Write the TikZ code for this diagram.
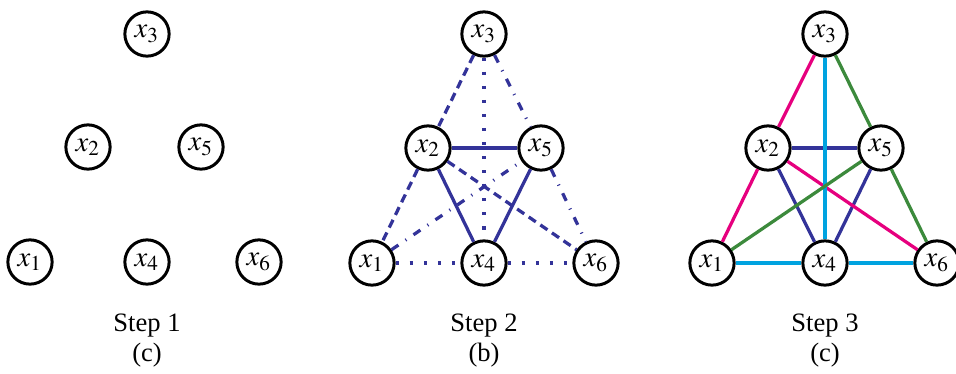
\documentclass[tikz,border=0pt]{standalone}
\usepackage{mathptmx}
\usepackage{fontspec}
\setmainfont{Liberation Serif}
\usepackage{tikz}
\definecolor{edgeblue}{RGB}{51,51,153}
\definecolor{edgepink}{RGB}{230,0,126}
\definecolor{edgecyan}{RGB}{0,163,224}
\definecolor{edgegreen}{RGB}{60,138,60}
\tikzset{
  vtx/.style={circle,draw=black,line width=1.15pt,minimum size=17pt,inner sep=0pt,font=\fontsize{11}{13}\selectfont},
  solidedge/.style={line width=1.25pt},
  dashedge/.style={line width=1.25pt,dash pattern=on 3.3pt off 2.1pt},
  dotedge/.style={line width=1.3pt,dash pattern=on 1.2pt off 4.2pt},
  dashdotedge/.style={line width=1.25pt,dash pattern=on 3.2pt off 3.3pt on 0.4pt off 3.3pt},
  caption/.style={font=\fontsize{10.2}{12}\selectfont}
}
\begin{document}
\begin{tikzpicture}[line cap=butt,line join=round,x=0.384pt,y=-0.384pt]
\useasboundingbox (0,0) rectangle (956,373);
% Step 1
\node[vtx] (ax3) at (147,34) {$x_3$};
\node[vtx] (ax2) at (88,147) {$x_2$};
\node[vtx] (ax5) at (201,147) {$x_5$};
\node[vtx] (ax1) at (30,262) {$x_1$};
\node[vtx] (ax4) at (147,262) {$x_4$};
\node[vtx] (ax6) at (259,262) {$x_6$};
\node[caption] (acap) at (147,326) {Step 1};
\node[caption] (alab) at (147,355) {(c)};
% Step 2
\node[vtx] (bx3) at (484,34) {$x_3$};
\node[vtx] (bx2) at (428,148) {$x_2$};
\node[vtx] (bx5) at (541,148) {$x_5$};
\node[vtx] (bx1) at (372,263) {$x_1$};
\node[vtx] (bx4) at (484,263) {$x_4$};
\node[vtx] (bx6) at (596,263) {$x_6$};
\node[caption] (bcap) at (484,326) {Step 2};
\node[caption] (blab) at (484,355) {(b)};
\begin{scope}[color=edgeblue]
\draw [solidedge] (bx2)-- (bx5);
\draw [solidedge] (bx2)-- (bx4);
\draw [solidedge] (bx5)-- (bx4);
\draw [dashedge] (bx3)-- (bx2);
\draw [dashedge] (bx2)-- (bx1);
\draw [dashedge] (bx2)-- (bx6);
\draw [dotedge] (bx3)-- (bx4);
\draw [dotedge] (bx1)-- (bx4);
\draw [dotedge] (bx4)-- (bx6);
\draw [dashdotedge] (bx3)-- (bx5);
\draw [dashdotedge] (bx5)-- (bx6);
\draw [dashdotedge] (bx1)-- (bx5);
\end{scope}
% Step 3
\node[vtx] (cx3) at (825,34) {$x_3$};
\node[vtx] (cx2) at (768,148) {$x_2$};
\node[vtx] (cx5) at (881,148) {$x_5$};
\node[vtx] (cx1) at (712,263) {$x_1$};
\node[vtx] (cx4) at (825,263) {$x_4$};
\node[vtx] (cx6) at (937,263) {$x_6$};
\node[caption] (ccap) at (825,326) {Step 3};
\node[caption] (clab) at (825,355) {(c)};
\draw [solidedge,color=edgeblue] (cx2)-- (cx5);
\draw [solidedge,color=edgeblue] (cx2)-- (cx4);
\draw [solidedge,color=edgeblue] (cx5)-- (cx4);
\draw [solidedge,color=edgepink] (cx3)-- (cx2);
\draw [solidedge,color=edgepink] (cx2)-- (cx1);
\draw [solidedge,color=edgepink] (cx2)-- (cx6);
\draw [solidedge,color=edgecyan] (cx3)-- (cx4);
\draw [solidedge,color=edgecyan] (cx1)-- (cx4);
\draw [solidedge,color=edgecyan] (cx4)-- (cx6);
\draw [solidedge,color=edgegreen] (cx3)-- (cx5);
\draw [solidedge,color=edgegreen] (cx5)-- (cx6);
\draw [solidedge,color=edgegreen] (cx1)-- (cx5);
\end{tikzpicture}
\end{document}
